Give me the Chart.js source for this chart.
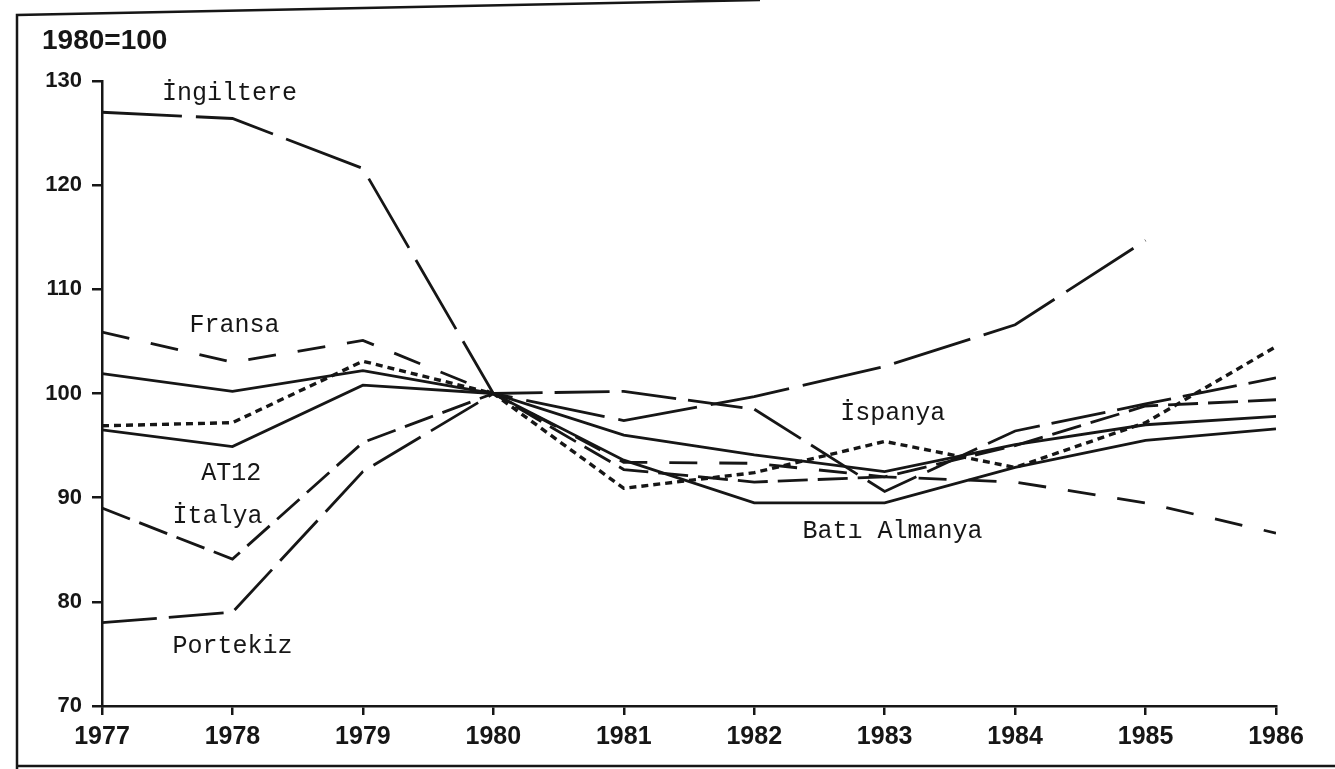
<!DOCTYPE html>
<html>
<head>
<meta charset="utf-8">
<script src="https://cdn.jsdelivr.net/npm/chart.js@4.4.1/dist/chart.umd.min.js"></script>
<style>
  html, body { margin: 0; padding: 0; background: #fff; }
</style>
</head>
<body>
<canvas id="endeks-grafik" width="1335" height="769"></canvas>
<script>
// 1980=100 endeks degerleri (grafikten okunan yaklasik degerler)
const yillar = [1977, 1978, 1979, 1980, 1981, 1982, 1983, 1984, 1985, 1986];
const ingiltere   = [127.0, 126.4, 121.6, 100, 97.4, 99.7, 102.6, 106.6, 114.7, null];
const fransa      = [105.9, 103.0, 105.1, 100, 93.4, 93.3, 92.0, 91.5, 89.5, 86.6];
const batiAlmanya = [101.9, 100.2, 102.2, 100, 93.6, 89.5, 89.5, 92.9, 95.5, 96.6];
const at12        = [96.5, 94.9, 100.8, 100, 96.0, 94.1, 92.5, 95.1, 97.0, 97.8];
const italya      = [89.0, 84.1, 95.3, 100, 92.7, 91.5, 92.0, 95.0, 98.8, 99.4];
const portekiz    = [78.0, 79.0, 92.5, 100, 100.2, 98.5, 90.6, 96.4, 99.0, 101.5];
const ispanya     = [96.9, 97.2, 103.1, 100, 90.9, 92.4, 95.4, 92.9, 97.2, 104.5];

const yTikleri = [70, 80, 90, 100, 110, 120, 130];

// egri uzerindeki yazilar (yil, deger konumu)
const etiketler       = ['İngiltere', 'Fransa', 'AT12', 'İtalya', 'Portekiz', 'İspanya', 'Batı Almanya'];
const etiketYillari   = [1977.46, 1977.67, 1977.76, 1977.54, 1977.54, 1982.66, 1982.37];
const etiketDegerleri = [128.2, 105.9, 91.7, 87.6, 75.1, 97.5, 86.1];

const MUREKKEP = '#161616';

function seri(degerler) {
    return yillar.map((yil, i) => ({ x: yil, y: degerler[i] }));
}

function cizgi(ad, degerler, kesik, kalinlik) {
    return {
        label: ad,
        data: seri(degerler),
        borderColor: MUREKKEP,
        borderWidth: kalinlik || 2.8,
        borderDash: kesik,
        pointRadius: 0,
        tension: 0,
        fill: false,
        spanGaps: false
    };
}

const cerceve = {
    id: 'cerceve',
    beforeDraw(chart) {
        const ctx = chart.ctx;
        ctx.save();
        ctx.fillStyle = '#fff';
        ctx.fillRect(0, 0, chart.width, chart.height);
        ctx.restore();
    },
    afterDraw(chart) {
        const ctx = chart.ctx;
        const xs = chart.scales.x;
        const ys = chart.scales.y;
        ctx.save();
        ctx.strokeStyle = MUREKKEP;
        ctx.lineWidth = 2.5;
        ctx.beginPath();
        ctx.moveTo(17, 769);
        ctx.lineTo(17, 15);
        ctx.lineTo(760, 0);
        ctx.stroke();
        ctx.beginPath();
        ctx.moveTo(17, 766);
        ctx.lineTo(1335, 766);
        ctx.stroke();

        ctx.fillStyle = MUREKKEP;
        ctx.textBaseline = 'alphabetic';
        ctx.font = 'bold 28px "Liberation Sans"';
        ctx.fillText('1980=100', 42, 49);

        ctx.font = '25px "Liberation Mono"';
        etiketler.forEach((metin, i) => {
            ctx.fillText(metin, xs.getPixelForValue(etiketYillari[i]), ys.getPixelForValue(etiketDegerleri[i]));
        });
        ctx.restore();
    }
};

const ctx = document.getElementById('endeks-grafik').getContext('2d');
const grafik = new Chart(ctx, {
    type: 'line',
    data: {
        datasets: [
            cizgi('İngiltere', ingiltere, [80, 14]),
            cizgi('Fransa', fransa, [28, 22]),
            cizgi('Batı Almanya', batiAlmanya, []),
            cizgi('AT12', at12, []),
            cizgi('İtalya', italya, [30, 10]),
            cizgi('Portekiz', portekiz, [55, 12]),
            cizgi('İspanya', ispanya, [7, 5], 3.4)
        ]
    },
    options: {
        responsive: false,
        animation: false,
        devicePixelRatio: 1,
        layout: { padding: { top: 81, right: 59, left: 0, bottom: 0 } },
        plugins: {
            legend: { display: false },
            tooltip: { enabled: false }
        },
        scales: {
            x: {
                type: 'linear',
                min: 1977,
                max: 1986,
                afterFit: s => { s.height = 63; },
                border: { display: true, color: MUREKKEP, width: 2.5 },
                grid: { drawOnChartArea: false, drawTicks: true, tickLength: 9, color: MUREKKEP, lineWidth: 2.5 },
                ticks: {
                    stepSize: 1,
                    padding: 7,
                    color: MUREKKEP,
                    font: { family: '"Liberation Sans"', size: 25, weight: 'bold' },
                    callback: v => String(v)
                }
            },
            y: {
                min: 70,
                max: 130,
                afterFit: s => { s.width = 102; },
                afterBuildTicks: s => { s.ticks = yTikleri.map(v => ({ value: v })); },
                border: { display: true, color: MUREKKEP, width: 2.5 },
                grid: { drawOnChartArea: false, drawTicks: true, tickLength: 10, color: MUREKKEP, lineWidth: 2.5 },
                ticks: {
                    padding: 10,
                    color: MUREKKEP,
                    font: { family: '"Liberation Sans"', size: 22, weight: 'bold' },
                    callback: v => String(v)
                }
            }
        }
    },
    plugins: [cerceve]
});
</script>
</body>
</html>
